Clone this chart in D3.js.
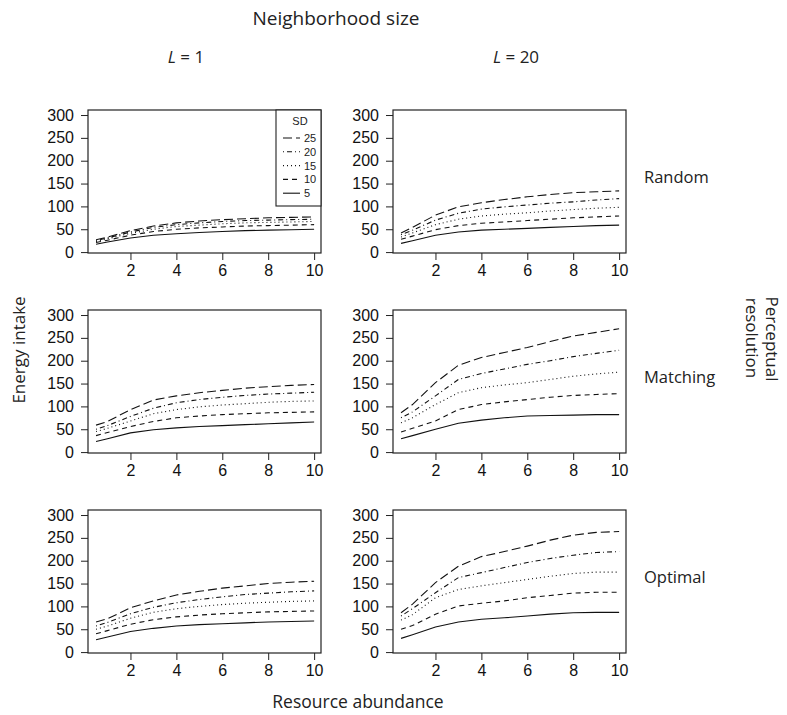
<!DOCTYPE html>
<html>
<head>
<meta charset="utf-8">
<script src="https://cdn.jsdelivr.net/npm/d3@7"></script>
<style>
  body { margin: 0; background: #fff; }
  svg { display: block; }
  .tick text { font-family: "Liberation Sans", Arial, sans-serif; font-size: 16px; fill: #111; }
  .tick line { stroke: #222; }
  .lab { font-family: "Open Sans", "Noto Sans", sans-serif; font-size: 16px; fill: #222; }
</style>
</head>
<body>
<div id="chart"></div>
<script>
var width = 787, height = 715;

// resource abundance (x) values
var abundance = [0.5, 1, 2, 3, 4, 5, 6, 7, 8, 9, 10];
var sdLevels = [25, 20, 15, 10, 5];
var yTicks = [0, 50, 100, 150, 200, 250, 300];
var xTicks = [2, 4, 6, 8, 10];

// energy intake, one row per SD level (25, 20, 15, 10, 5)
var randomL1 = [
  [27, 33, 47, 57, 64, 68, 71, 73, 75, 76, 77],
  [25, 31, 44, 54, 60, 64, 67, 69, 70, 71, 72],
  [23, 29, 41, 50, 56, 59, 62, 64, 65, 66, 67],
  [21, 26, 37, 45, 50, 53, 55, 57, 58, 59, 60],
  [17, 22, 31, 37, 40, 43, 45, 47, 48, 49, 50]
];
var randomL20 = [
  [42, 54, 81, 99, 108, 115, 121, 126, 130, 132, 134],
  [38, 48, 70, 85, 94, 99, 103, 107, 110, 114, 117],
  [33, 42, 60, 72, 79, 83, 86, 90, 93, 96, 98],
  [28, 35, 49, 58, 63, 66, 69, 72, 75, 77, 79],
  [19, 25, 37, 44, 48, 50, 52, 54, 56, 58, 59]
];
var matchingL1 = [
  [59, 67, 93, 114, 123, 130, 135, 140, 143, 146, 148],
  [50, 58, 78, 96, 108, 115, 120, 124, 127, 129, 131],
  [45, 52, 68, 84, 93, 99, 103, 106, 109, 111, 112],
  [36, 43, 56, 67, 75, 79, 82, 84, 86, 87, 88],
  [23, 29, 42, 49, 53, 56, 58, 60, 62, 64, 66]
];
var matchingL20 = [
  [86, 104, 152, 190, 207, 218, 229, 242, 254, 262, 270],
  [75, 88, 123, 159, 172, 182, 192, 200, 209, 216, 223],
  [64, 75, 104, 130, 141, 147, 152, 159, 166, 171, 175],
  [44, 52, 68, 93, 104, 110, 115, 120, 124, 126, 128],
  [29, 36, 50, 63, 70, 75, 79, 80, 81, 82, 82]
];
var optimalL1 = [
  [66, 73, 97, 112, 125, 133, 140, 145, 150, 153, 155],
  [57, 65, 84, 98, 108, 115, 121, 126, 129, 132, 134],
  [50, 57, 74, 87, 95, 100, 104, 107, 109, 111, 112],
  [40, 47, 61, 71, 77, 81, 84, 86, 88, 89, 90],
  [27, 33, 45, 52, 57, 60, 62, 64, 66, 67, 68]
];
var optimalL20 = [
  [86, 105, 152, 188, 209, 220, 232, 245, 256, 262, 264],
  [79, 95, 130, 163, 174, 185, 196, 205, 212, 218, 220],
  [70, 82, 119, 137, 145, 152, 159, 166, 172, 175, 175],
  [50, 58, 83, 101, 107, 112, 119, 124, 129, 131, 131],
  [30, 38, 55, 66, 72, 75, 79, 83, 86, 87, 87]
];

var rowNames = ["Random", "Matching", "Optimal"];
var colNames = ["1", "20"];

var panels = [
  [randomL1, randomL20],
  [matchingL1, matchingL20],
  [optimalL1, optimalL20]
];

// line style per SD (R lty: longdash, dotdash, dotted, dashed, solid)
var dashes = { 25: "9,4", 20: "1,3,5,3", 15: "1,3", 10: "5,4", 5: null };

var colX = [88, 393], rowY = [110, 310, 510];
var pw = 233, ph = 143;

var svg = d3.select("#chart").append("svg")
  .attr("width", width)
  .attr("height", height);

var x = d3.scaleLinear().domain([0.15, 10.3]).range([0, pw]);
var y = d3.scaleLinear().domain([-2, 311]).range([ph, 0]);

var line = d3.line()
  .x(function(d, i) { return x(abundance[i]); })
  .y(function(d) { return y(d); });

panels.forEach(function(row, r) {
  row.forEach(function(series, c) {
    var g = svg.append("g")
      .attr("transform", "translate(" + colX[c] + "," + rowY[r] + ")");

    g.append("g")
      .call(d3.axisLeft(y).tickValues(yTicks).tickSize(7).tickPadding(7))
      .call(function(a) { a.select(".domain").remove(); });

    g.append("g")
      .attr("transform", "translate(0," + ph + ")")
      .call(d3.axisBottom(x).tickValues(xTicks).tickSize(7).tickPadding(5))
      .call(function(a) { a.select(".domain").remove(); });

    g.selectAll("path.series")
      .data(series)
      .enter()
      .append("path")
        .attr("class", "series")
        .attr("d", line)
        .attr("fill", "none")
        .attr("stroke", "#111")
        .attr("stroke-width", 1.1)
        .attr("stroke-dasharray", function(d, i) { return dashes[sdLevels[i]]; });

    g.append("rect")
      .attr("width", pw).attr("height", ph)
      .attr("fill", "none").attr("stroke", "#222").attr("stroke-width", 1.2);

    // legend in first panel
    if (r === 0 && c === 0) {
      var lg = g.append("g").attr("transform", "translate(" + (pw - 45) + ",0)");
      lg.append("rect").attr("width", 45).attr("height", 96)
        .attr("fill", "#fff").attr("stroke", "#222").attr("stroke-width", 1.1);
      lg.append("text").attr("x", 24).attr("y", 15)
        .attr("text-anchor", "middle")
        .style("font-family", "Liberation Sans, Arial, sans-serif")
        .style("font-size", "11px").attr("fill", "#222").text("SD");
      sdLevels.forEach(function(sd, i) {
        var ly = 28 + i * 13.8;
        lg.append("line").attr("x1", 7).attr("x2", 24).attr("y1", ly).attr("y2", ly)
          .attr("stroke", "#111").attr("stroke-width", 1.1)
          .attr("stroke-dasharray", dashes[sd]);
        lg.append("text").attr("x", 28).attr("y", ly + 4)
          .style("font-family", "Liberation Sans, Arial, sans-serif")
          .style("font-size", "11px").attr("fill", "#222").text(sd);
      });
    }
  });
});

// titles
svg.append("text").attr("class", "lab").attr("x", 336).attr("y", 25)
  .attr("text-anchor", "middle").style("font-size", "19px").text("Neighborhood size");

var colLabX = [186, 516];
colNames.forEach(function(n, i) {
  var t = svg.append("text").attr("class", "lab").attr("x", colLabX[i]).attr("y", 63)
    .attr("text-anchor", "middle").style("font-size", "17px");
  t.append("tspan").style("font-style", "italic").text("L");
  t.append("tspan").text(" = " + n);
});

rowNames.forEach(function(n, i) {
  svg.append("text").attr("class", "lab").attr("x", 644).attr("y", rowY[i] + 73)
    .style("font-size", "16.5px").text(n);
});

svg.append("text").attr("class", "lab")
  .attr("transform", "translate(25,350) rotate(-90)")
  .attr("text-anchor", "middle").style("font-size", "17px").text("Energy intake");

svg.append("text").attr("class", "lab").attr("x", 358).attr("y", 708)
  .attr("text-anchor", "middle").style("font-size", "17.5px").text("Resource abundance");

svg.append("text").attr("class", "lab")
  .attr("transform", "translate(766,339) rotate(90)")
  .attr("text-anchor", "middle").style("font-size", "17px").text("Perceptual");
svg.append("text").attr("class", "lab")
  .attr("transform", "translate(746,338) rotate(90)")
  .attr("text-anchor", "middle").style("font-size", "17px").text("resolution");
</script>
</body>
</html>
